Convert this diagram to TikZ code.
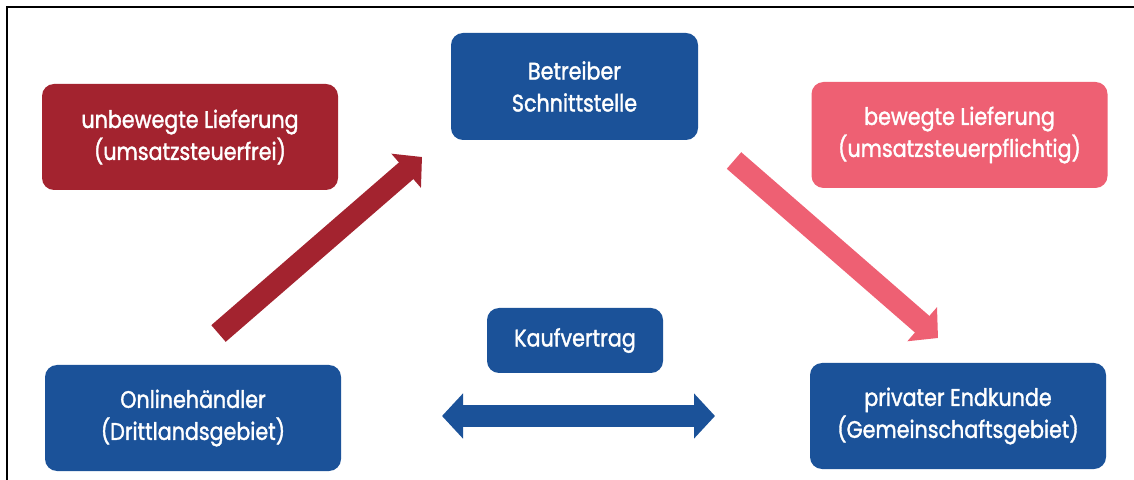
\documentclass[tikz,border=0pt]{standalone}
\usepackage{fontspec}
\setmainfont{Poppins}[FakeStretch=0.86, FakeBold=1.5]
\usetikzlibrary{arrows.meta, positioning}
\definecolor{boxblue}{HTML}{1B5299}
\definecolor{boxred}{HTML}{A3232F}
\definecolor{boxpink}{HTML}{EE6073}

\begin{document}
\begin{tikzpicture}[x=0.5pt, y=-0.5pt,
    box/.style={rounded corners=6pt, text=white, align=center,
        font=\fontsize{12}{16}\selectfont, inner sep=0pt,
        minimum width=148pt, minimum height=53pt},
    fatarrow/.style={line width=11pt, -{Triangle[length=10.5pt, width=22pt]}}]

% Frame (cut off on the right and at the bottom)
\useasboundingbox (0,0) rectangle (1134,480);
\draw[line width=1pt] (7,7) rectangle (1150,500);

% Boxes
\node[box, fill=boxred] (unbewegt) at (190,137) {unbewegte Lieferung\\(umsatzsteuerfrei)};
\node[box, fill=boxblue, minimum width=123.5pt, minimum height=53.5pt] (betreiber) at (574.5,86.5) {Betreiber\\Schnittstelle};
\node[box, fill=boxpink] (bewegt) at (959.5,135) {bewegte Lieferung\\(umsatzsteuerpflichtig)};
\node[box, fill=boxblue, minimum width=88pt, minimum height=32.5pt] (kauf) at (575,340.5) {Kaufvertrag};
\node[box, fill=boxblue] (haendler) at (193,418) {Onlinehändler\\(Drittlandsgebiet)};
\node[box, fill=boxblue] (endkunde) at (958,416) {privater Endkunde\\(Gemeinschaftsgebiet)};

% Arrow ends
\coordinate (rot-start) at (218.5,333.5);
\coordinate (rot-end) at (422,157);
\coordinate (rosa-start) at (734,160.5);
\coordinate (rosa-end) at (938,338);
\coordinate (kauf-links) at (442,416);
\coordinate (kauf-rechts) at (715,416);

% Arrows
\draw[fatarrow, boxred] (rot-start) -- (rot-end);
\draw[fatarrow, boxpink] (rosa-start) -- (rosa-end);
\draw[fatarrow, boxblue, {Triangle[length=10.5pt, width=22pt]}-{Triangle[length=10.5pt, width=22pt]}] (kauf-links) -- (kauf-rechts);

\end{tikzpicture}
\end{document}
